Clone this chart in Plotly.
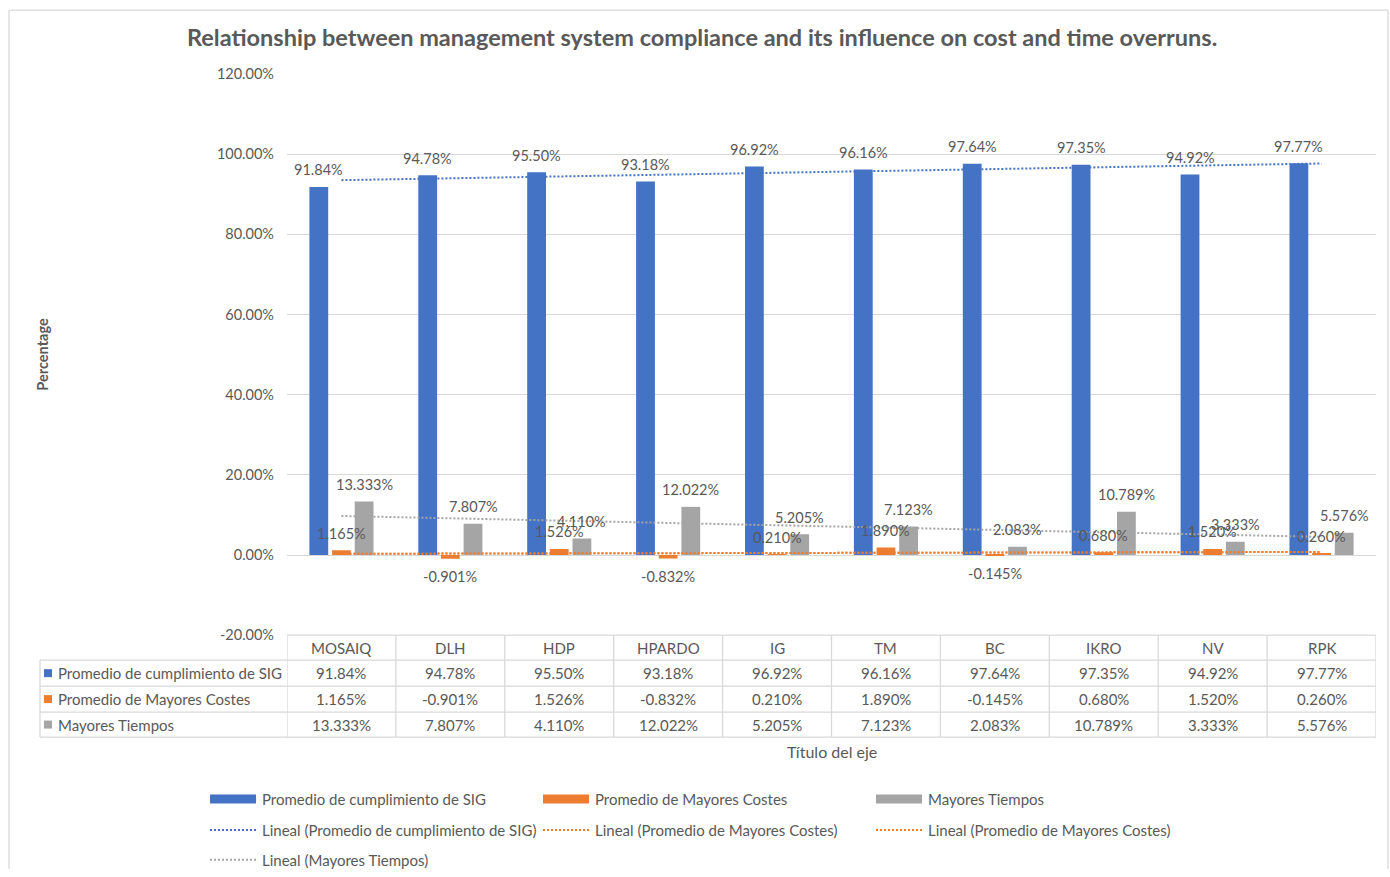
import numpy as np
import plotly.graph_objects as go

# ---- data ----
categories = ["MOSAIQ", "DLH", "HDP", "HPARDO", "IG", "TM", "BC", "IKRO", "NV", "RPK"]
sig_compliance = [91.84, 94.78, 95.50, 93.18, 96.92, 96.16, 97.64, 97.35, 94.92, 97.77]
cost_overrun = [1.165, -0.901, 1.526, -0.832, 0.210, 1.890, -0.145, 0.680, 1.520, 0.260]
time_overrun = [13.333, 7.807, 4.110, 12.022, 5.205, 7.123, 2.083, 10.789, 3.333, 5.576]
y_ticks = [-20, 0, 20, 40, 60, 80, 100, 120]
y_tick_labels = ["-20.00%", "0.00%", "20.00%", "40.00%", "60.00%", "80.00%", "100.00%", "120.00%"]

series_names = ["Promedio de cumplimiento de SIG", "Promedio de Mayores Costes", "Mayores Tiempos"]
series_values = [sig_compliance, cost_overrun, time_overrun]
series_fmt = ["{:.2f}%", "{:.3f}%", "{:.3f}%"]
colors = ["#4472C4", "#ED7D31", "#A5A5A5"]

W, H = 1390, 877
FONT = "Lato"
TXT = "#595959"
GRID = "#D9D9D9"
FS = 14.5     # data labels / ticks
FS_T = 15     # table and legend text

# the page adds an 8px body margin above and below the figure, so vertical
# positions are laid out on a (H + 16)-tall page squeezed back to H
PAGE_PAD = 8
V_SCALE = (H + 2 * PAGE_PAD) / H


def px(x):
    return x / W


def py(y):
    return 1 - (y * V_SCALE - PAGE_PAD) / H


def label(x, y, text, size=FS_T, xanchor="center", xref="paper", yref="paper", **kw):
    return dict(x=x, y=y, xref=xref, yref=yref, text=text, showarrow=False,
                xanchor=xanchor, yanchor="middle",
                font=dict(family=FONT, size=size, color=TXT), **kw)


x_idx = np.arange(len(categories))
PLOT_L, PLOT_R, PLOT_T, PLOT_B = 287, 1376, 73, 635

fig = go.Figure()

# bars
for name, vals, col in zip(series_names, series_values, colors):
    fig.add_trace(go.Bar(x=x_idx, y=vals, name=name, marker=dict(color=col, line=dict(width=0)),
                         showlegend=False, hoverinfo="y"))

# linear trendlines (least squares over category index)
trend_specs = [(sig_compliance, colors[0]), (cost_overrun, colors[1]),
               (cost_overrun, colors[1]), (time_overrun, colors[2])]
for vals, col in trend_specs:
    k, b = np.polyfit(x_idx, vals, 1)
    fig.add_trace(go.Scatter(x=x_idx, y=k * x_idx + b, mode="lines",
                             line=dict(color=col, width=2, dash="2px,2px"),
                             showlegend=False, hoverinfo="skip"))

annotations = []
shapes = []

# data labels above / below each bar
bargap, groupgap = 0.376, 0.17
slot = (1 - bargap) / 3
offsets = [-slot, 0, slot]
for s, (vals, fmt) in enumerate(zip(series_values, series_fmt)):
    for i, v in enumerate(vals):
        annotations.append(label(i + offsets[s], v, fmt.format(v), size=FS, xref="x", yref="y",
                                 yshift=17 if v >= 0 else -18))

# title and axis titles
annotations.append(label(px(702), py(36),
                         "<b>Relationship between management system compliance and its influence on cost and time overruns.</b>",
                         size=23.5))
annotations.append(label(px(43), py(354), "<b>Percentage</b>", size=FS, textangle=-90))
annotations.append(label(px(832), py(751), "Título del eje", size=16))

# data table under the plot
TBL_LEFT = 40
row_edges = [635, 660, 686, 712, 737]
line_style = dict(color=GRID, width=1.3)
shapes.append(dict(type="line", xref="paper", yref="paper", x0=px(PLOT_L), x1=px(PLOT_R),
                   y0=py(row_edges[0]), y1=py(row_edges[0]), line=line_style))
for ye in row_edges[1:]:
    shapes.append(dict(type="line", xref="paper", yref="paper", x0=px(TBL_LEFT), x1=px(PLOT_R),
                       y0=py(ye), y1=py(ye), line=line_style))
for i in range(len(categories) + 1):
    shapes.append(dict(type="line", xref="x", yref="paper", x0=i - 0.5, x1=i - 0.5,
                       y0=py(row_edges[0]), y1=py(row_edges[-1]), line=line_style))
shapes.append(dict(type="line", xref="paper", yref="paper", x0=px(TBL_LEFT), x1=px(TBL_LEFT),
                   y0=py(row_edges[1]), y1=py(row_edges[-1]), line=line_style))

row_centers = [(row_edges[r] + row_edges[r + 1]) / 2 for r in range(4)]
for i, cat in enumerate(categories):
    annotations.append(label(i, py(row_centers[0]), cat, xref="x"))
for s, (name, vals, fmt, col) in enumerate(zip(series_names, series_values, series_fmt, colors)):
    yc = row_centers[s + 1]
    shapes.append(dict(type="rect", xref="paper", yref="paper", x0=px(44), x1=px(52),
                       y0=py(yc - 4), y1=py(yc + 4), fillcolor=col, line=dict(width=0)))
    annotations.append(label(px(56), py(yc), name, xanchor="left"))
    for i, v in enumerate(vals):
        annotations.append(label(i, py(yc), fmt.format(v), xref="x"))

# legend
legend_items = [
    ("bar", colors[0], series_names[0], 210, 799),
    ("bar", colors[1], series_names[1], 543, 799),
    ("bar", colors[2], series_names[2], 876, 799),
    ("dot", colors[0], "Lineal (" + series_names[0] + ")", 210, 830),
    ("dot", colors[1], "Lineal (" + series_names[1] + ")", 543, 830),
    ("dot", colors[1], "Lineal (" + series_names[1] + ")", 876, 830),
    ("dot", colors[2], "Lineal (" + series_names[2] + ")", 210, 860),
]
for kind, col, text, xk, yk in legend_items:
    if kind == "bar":
        shapes.append(dict(type="rect", xref="paper", yref="paper", x0=px(xk), x1=px(xk + 46),
                           y0=py(yk - 4.5), y1=py(yk + 4.5), fillcolor=col, line=dict(width=0)))
    else:
        shapes.append(dict(type="line", xref="paper", yref="paper", x0=px(xk), x1=px(xk + 46),
                           y0=py(yk), y1=py(yk), line=dict(color=col, width=2, dash="2px,2px")))
    annotations.append(label(px(xk + 50), py(yk), text, xanchor="left"))

# chart frame
frame = dict(color=GRID, width=1.3)
shapes += [
    dict(type="line", xref="paper", yref="paper", x0=px(9), x1=px(1388), y0=py(9), y1=py(9), line=frame),
    dict(type="line", xref="paper", yref="paper", x0=px(9), x1=px(9), y0=py(9), y1=0, line=frame),
    dict(type="line", xref="paper", yref="paper", x0=px(1388), x1=px(1388), y0=py(9), y1=0, line=frame),
]

fig.update_layout(
    width=W, height=H, margin=dict(l=0, r=0, t=0, b=0),
    paper_bgcolor="white", plot_bgcolor="white",
    barmode="group", bargap=bargap, bargroupgap=groupgap,
    showlegend=False,
    xaxis=dict(domain=[px(PLOT_L), px(PLOT_R)], range=[-0.5, 9.5], showgrid=False,
               zeroline=False, showticklabels=False, showline=False, fixedrange=True),
    yaxis=dict(domain=[py(PLOT_B), py(PLOT_T)], range=[-20, 120], tickmode="array",
               tickvals=y_ticks, ticktext=y_tick_labels, showgrid=True, gridcolor=GRID,
               gridwidth=1.3, zeroline=False, showline=False, ticklabelstandoff=12,
               tickfont=dict(family=FONT, size=FS, color=TXT), fixedrange=True),
    annotations=annotations, shapes=shapes,
)

fig.write_html("out.html")
